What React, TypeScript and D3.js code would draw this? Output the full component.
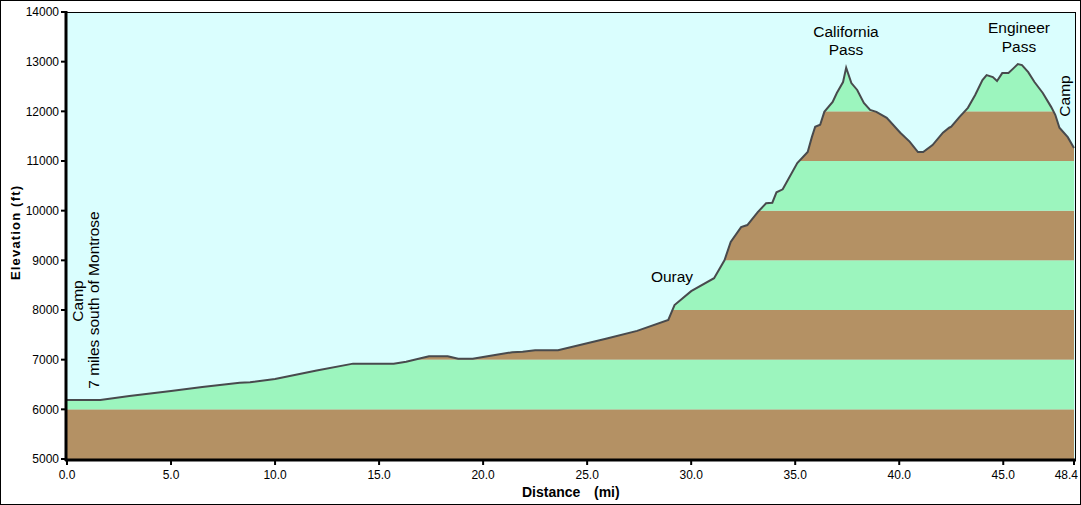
import * as d3 from "d3"

// elevation profile
const distances = [
  0, 1.6, 3, 5, 6.5, 8.3, 8.8, 10, 12, 13.75, 15.7, 16.3, 17.1, 17.4, 18.3, 18.8, 19.5, 20.5, 21.4, 21.9,
  22.5, 23.6, 25.9, 27.4, 28.9, 29.2, 30.0, 31.1, 31.6, 31.9, 32.4, 32.7, 33.2, 33.6, 33.9, 34.1, 34.4,
  34.6, 35.1, 35.6, 35.8, 35.96, 36.2, 36.4, 36.8, 37.0, 37.3, 37.45, 37.7, 37.98, 38.3, 38.6, 38.9, 39.4,
  40.05, 40.5, 40.9, 41.15, 41.6, 42.1, 42.4, 42.5, 42.9, 43.3, 43.65, 44.0, 44.2, 44.5, 44.7, 44.95,
  45.25, 45.5, 45.7, 45.9, 46.2, 46.5, 46.9, 47.3, 47.5, 47.7, 48.1, 48.4,
]
const elevations = [
  6190, 6190, 6270, 6370, 6450, 6535, 6545, 6610, 6780, 6920, 6920, 6960, 7040, 7070, 7070, 7020, 7020, 7090,
  7150, 7160, 7190, 7190, 7420, 7580, 7800, 8100, 8380, 8640, 9000, 9370, 9670, 9710, 9970, 10150, 10160,
  10370, 10430, 10580, 10960, 11180, 11480, 11690, 11730, 11990, 12190, 12370, 12590, 12880, 12570, 12430,
  12170, 12030, 11990, 11870, 11570, 11390, 11180, 11180, 11320, 11570, 11670, 11690, 11890, 12070, 12330,
  12630, 12730, 12690, 12610, 12770, 12770, 12870, 12950, 12930, 12790, 12590, 12370, 12090, 11930, 11670,
  11480, 11260,
]
const xTicks = [0, 5, 10, 15, 20, 25, 30, 35, 40, 45, 48.4]
const yTicks = [5000, 6000, 7000, 8000, 9000, 10000, 11000, 12000, 13000, 14000]
const bands = [5000, 6000, 7000, 8000, 9000, 10000, 11000, 12000, 13000]

const W = 1081
const H = 505
const font = "'Liberation Sans', Arial, sans-serif"
const SKY = "#dafefe"
const GREEN = "#9cf5be"
const BROWN = "#b49164"

export default function App() {
  const x = d3.scaleLinear().domain([0, 48.4]).range([67, 1074])
  const y = d3.scaleLinear().domain([5000, 14000]).range([459, 12])
  const pts = distances.map((d, i) => [d, elevations[i]] as [number, number])

  const area = d3
    .area<[number, number]>()
    .x((d) => x(d[0]))
    .y0(y(5000))
    .y1((d) => y(d[1]))
  const line = d3
    .line<[number, number]>()
    .x((d) => x(d[0]))
    .y((d) => y(d[1]))

  const [x0, x1] = x.range()

  return (
    <svg width={W} height={H} style={{ position: "absolute", left: 0, top: 0, fontFamily: font }}>
      <rect x={0.5} y={0.5} width={W - 1} height={H - 1} fill="#fff" stroke="#000" />
      <defs>
        <clipPath id="ground">
          <path d={area(pts) ?? ""} />
        </clipPath>
      </defs>
      <rect x={x0} y={y(14000)} width={x1 - x0 + 1} height={y(5000) - y(14000)} fill={SKY} />
      <g clipPath="url(#ground)">
        {bands.map((b, i) => (
          <rect
            key={b}
            x={x0}
            y={y(b + 1000)}
            width={x1 - x0 + 1}
            height={y(b) - y(b + 1000)}
            fill={i % 2 === 0 ? BROWN : GREEN}
          />
        ))}
      </g>
      <path d={line(pts) ?? ""} fill="none" stroke="#484a4d" strokeWidth={2} />

      {/* frame */}
      <line x1={x0} x2={x1 + 1.5} y1={12.5} y2={12.5} stroke="#000" />
      <line x1={x1 + 1.5} x2={x1 + 1.5} y1={12} y2={y(5000)} stroke="#000" />
      <line x1={x0 - 1} x2={x0 - 1} y1={11} y2={y(5000) + 2} stroke="#000" strokeWidth={3} />
      <line x1={x0 - 2} x2={x1 + 2} y1={y(5000) + 1} y2={y(5000) + 1} stroke="#000" strokeWidth={3} />

      {yTicks.map((t) => (
        <g key={t}>
          <line x1={x0 - 6} x2={x0} y1={y(t)} y2={y(t)} stroke="#000" strokeWidth={2} />
          <text x={x0 - 8} y={y(t)} dy="0.35em" textAnchor="end" fontSize={12} fill="#000">
            {t}
          </text>
        </g>
      ))}
      {xTicks.map((t, i) => (
        <g key={t}>
          <line x1={x(t)} x2={x(t)} y1={y(5000)} y2={y(5000) + 6} stroke="#000" strokeWidth={2} />
          <text
            x={i === xTicks.length - 1 ? x(t) + 4 : x(t)}
            y={479}
            textAnchor={i === xTicks.length - 1 ? "end" : "middle"}
            fontSize={12}
            fill="#000"
          >
            {t.toFixed(1)}
          </text>
        </g>
      ))}

      <text x={522} y={497} fontSize={14} fontWeight="bold">
        Distance
      </text>
      <text x={594} y={497} fontSize={14} fontWeight="bold">
        (mi)
      </text>
      <text
        transform="translate(20,233) rotate(-90)"
        textAnchor="middle"
        fontSize={13}
        fontWeight="bold"
        textLength={94}
        lengthAdjust="spacing"
      >
        Elevation (ft)
      </text>

      {/* place labels */}
      <text transform="translate(83,301) rotate(-90)" textAnchor="middle" fontSize={15.5}>
        Camp
      </text>
      <text transform="translate(99,300) rotate(-90)" textAnchor="middle" fontSize={15.5}>
        7 miles south of Montrose
      </text>
      <text x={672} y={282} textAnchor="middle" fontSize={15.5}>
        Ouray
      </text>
      <text x={846} y={37} textAnchor="middle" fontSize={15.5}>
        California
      </text>
      <text x={846} y={55} textAnchor="middle" fontSize={15.5}>
        Pass
      </text>
      <text x={1019} y={33} textAnchor="middle" fontSize={15.5}>
        Engineer
      </text>
      <text x={1019} y={52} textAnchor="middle" fontSize={15.5}>
        Pass
      </text>
      <text transform="translate(1070,96) rotate(-90)" textAnchor="middle" fontSize={15.5}>
        Camp
      </text>
    </svg>
  )
}
